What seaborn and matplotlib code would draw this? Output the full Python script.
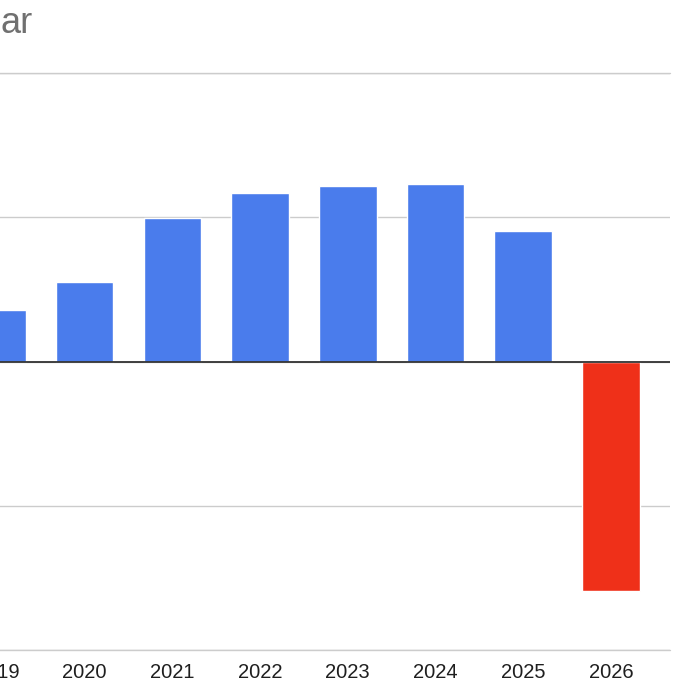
import matplotlib
matplotlib.use("Agg")
import matplotlib.pyplot as plt
import seaborn as sns
import pandas as pd

years = ["2019", "2020", "2021", "2022", "2023", "2024", "2025", "2026"]
values = [0.357, 0.553, 0.993, 1.170, 1.219, 1.228, 0.907, -1.591]
title_text = "ar"

blue = "#4A7CEC"
red = "#EF3019"

sns.set_theme(style="white")
plt.rcParams['font.family'] = ['Liberation Sans', 'DejaVu Sans']

df = pd.DataFrame({"year": years, "value": values})
df["sign"] = ["neg" if v < 0 else "pos" for v in values]

W, H = 680, 680
step = 87.7
left_px = -12
fig = plt.figure(figsize=(6.8, 6.8), dpi=100)
ax = fig.add_axes([left_px / W, (H - 650) / H, (670 - left_px) / W, (650 - 73) / H])

sns.barplot(data=df, x="year", y="value", hue="sign",
            palette={"pos": blue, "neg": red}, width=0.656,
            dodge=False, legend=False, ax=ax, saturation=1)

x0 = 3 / step + left_px / step
ax.set_xlim(x0, x0 + (670 - left_px) / step)
ax.set_ylim(-2, 2)
ax.set_yticks([-2, -1, 0, 1, 2])
ax.yaxis.grid(True, color="#cccccc", linewidth=1.0)
ax.set_axisbelow(True)
for yv in (-2, 2):
    ax.axhline(yv, color="#cccccc", linewidth=1.0, clip_on=False, zorder=0)
ax.axhline(0, color="#333333", linewidth=1.3, zorder=3)
for s in ax.spines.values():
    s.set_visible(False)
ax.set_yticklabels([])
ax.tick_params(axis="y", length=0)
ax.tick_params(axis="x", length=0, pad=9, labelsize=14.5, labelcolor="#1f1f1f")
ax.set_xlabel("")
ax.set_ylabel("")

fig.text(1 / W, 1 - 33 / H, title_text, ha="left", va="baseline",
         fontsize=26, color="#707070")

fig.savefig("out.png", dpi=100)
